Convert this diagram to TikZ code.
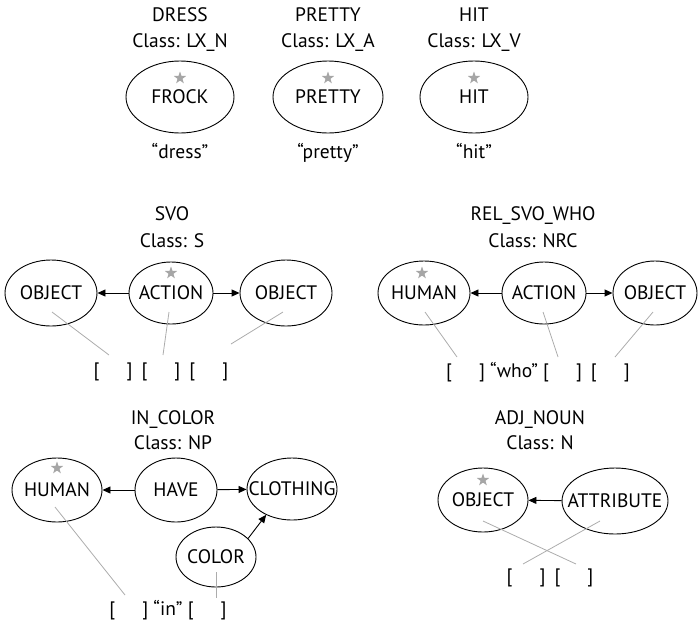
\documentclass[tikz,border=0pt]{standalone}
\usepackage{fontspec}
\setmainfont{PT Sans}
\usetikzlibrary{shapes.geometric,arrows.meta}
% an empty slot of the surface form: a pair of brackets
\newcommand\slotpair{[\hspace{27pt}]}
% concept label that does not widen its ellipse
\newcommand\clabel[1]{\makebox[0pt]{#1}}
\begin{document}
\begin{tikzpicture}[x=1pt,y=-1pt,
  every node/.style={font=\fontsize{19.5}{22}\selectfont},
  concept/.style={ellipse,draw,line width=0.9pt,inner sep=0pt},
  headmark/.style={star,star points=5,star point ratio=2.5,fill=gray!70,draw=none,inner sep=0pt,minimum size=13pt},
  link/.style={-{Triangle[length=8pt,width=7pt]},line width=0.9pt},
  slotline/.style={gray!65,line width=0.8pt},
  txt/.style={anchor=base},
]
\useasboundingbox (0,0) rectangle (698,622);

% ---------- lexical entries ----------
\node[txt] (t1) at (180,21) {DRESS};
\node[txt] (c1) at (180,47) {Class: LX\_N};
\node[concept,minimum width=108pt,minimum height=72pt] (frock) at (180,97) {\clabel{FROCK}};
\node[headmark] (s1) at (180,78) {};
\node[txt] (w1) at (180,158) {“dress”};

\node[txt] (t2) at (328,21) {PRETTY};
\node[txt] (c2) at (328,47) {Class: LX\_A};
\node[concept,minimum width=110pt,minimum height=72pt] (pretty) at (328,97) {\clabel{PRETTY}};
\node[headmark] (s2) at (328,78) {};
\node[txt] (w2) at (328,158) {“pretty”};

\node[txt] (t3) at (474,21) {HIT};
\node[txt] (c3) at (474,47) {Class: LX\_V};
\node[concept,minimum width=108pt,minimum height=72pt] (hit) at (474,97) {\clabel{HIT}};
\node[headmark] (s3) at (474,78) {};
\node[txt] (w3) at (474,158) {“hit”};

% ---------- SVO ----------
\node[txt] (t4) at (172,220) {SVO};
\node[txt] (c4) at (172,247) {Class: S};
\node[concept,minimum width=92pt,minimum height=66pt] (svoA) at (51,293) {\clabel{OBJECT}};
\node[concept,minimum width=84pt,minimum height=62pt] (svoB) at (171,293) {\clabel{ACTION}};
\node[concept,minimum width=92pt,minimum height=66pt] (svoC) at (286,293) {\clabel{OBJECT}};
\node[headmark] (s4) at (171,273) {};
\draw[link] (svoB) -- (svoA);
\draw[link] (svoB) -- (svoC);
\node (f4) at (161,372) {\slotpair\hspace{9pt}\slotpair\hspace{9pt}\slotpair};
\coordinate (a4) at (52,312);  \coordinate (b4) at (109,355);
\coordinate (a5) at (169,312); \coordinate (b5) at (163,355);
\coordinate (a6) at (283,312); \coordinate (b6) at (231,344);
\draw[slotline] (a4) -- (b4);
\draw[slotline] (a5) -- (b5);
\draw[slotline] (a6) -- (b6);

% ---------- REL_SVO_WHO ----------
\node[txt] (t5) at (533,220) {REL\_SVO\_WHO};
\node[txt] (c5) at (533,247) {Class: NRC};
\node[concept,minimum width=92pt,minimum height=64pt] (relA) at (424,293) {\clabel{HUMAN}};
\node[concept,minimum width=84pt,minimum height=62pt] (relB) at (544,293) {\clabel{ACTION}};
\node[concept,minimum width=84pt,minimum height=64pt] (relC) at (655,293) {\clabel{OBJECT}};
\node[headmark] (s5) at (422,273) {};
\draw[link] (relB) -- (relA);
\draw[link] (relB) -- (relC);
\node (f5) at (538,372) {\slotpair{} “who” \slotpair\hspace{9pt}\slotpair};
\coordinate (a7) at (425,312); \coordinate (b7) at (457,357);
\coordinate (a8) at (543,312); \coordinate (b8) at (558,357);
\coordinate (a9) at (653,312); \coordinate (b9) at (615,357);
\draw[slotline] (a7) -- (b7);
\draw[slotline] (a8) -- (b8);
\draw[slotline] (a9) -- (b9);

% ---------- IN_COLOR ----------
\node[txt] (t6) at (173,424) {IN\_COLOR};
\node[txt] (c6) at (173,449) {Class: NP};
\node[concept,minimum width=90pt,minimum height=64pt] (incA) at (57,490) {\clabel{HUMAN}};
\node[concept,minimum width=82pt,minimum height=64pt] (incB) at (176,490) {\clabel{HAVE}};
\node[concept,minimum width=90pt,minimum height=62pt] (incC) at (292,489) {\clabel{CLOTHING}};
\node[concept,minimum width=80pt,minimum height=60pt] (incD) at (216,557) {\clabel{COLOR}};
\node[headmark] (s6) at (57,468) {};
\draw[link] (incB) -- (incA);
\draw[link] (incB) -- (incC);
\draw[link] (incD.30) -- (incC.225);
\node (f6) at (168,610) {\slotpair{} “in” \slotpair};
\coordinate (a10) at (55,507);  \coordinate (b10) at (125,595);
\coordinate (a11) at (216,572); \coordinate (b11) at (216,598);
\draw[slotline] (a10) -- (b10);
\draw[slotline] (a11) -- (b11);

% ---------- ADJ_NOUN ----------
\node[txt] (t7) at (540,424) {ADJ\_NOUN};
\node[txt] (c7) at (540,449) {Class: N};
\node[concept,minimum width=90pt,minimum height=64pt] (adjA) at (483,500) {\clabel{OBJECT}};
\node[concept,minimum width=106pt,minimum height=66pt] (adjB) at (615,501) {\clabel{ATTRIBUTE}};
\node[headmark] (s7) at (483,480) {};
\draw[link] (adjB) -- (adjA);
\node (f7) at (550,578) {\slotpair\hspace{9pt}\slotpair};
\coordinate (a12) at (483,521); \coordinate (b12) at (576,564);
\coordinate (a13) at (600,521); \coordinate (b13) at (523,564);
\draw[slotline] (a12) -- (b12);
\draw[slotline] (a13) -- (b13);
\end{tikzpicture}
\end{document}
